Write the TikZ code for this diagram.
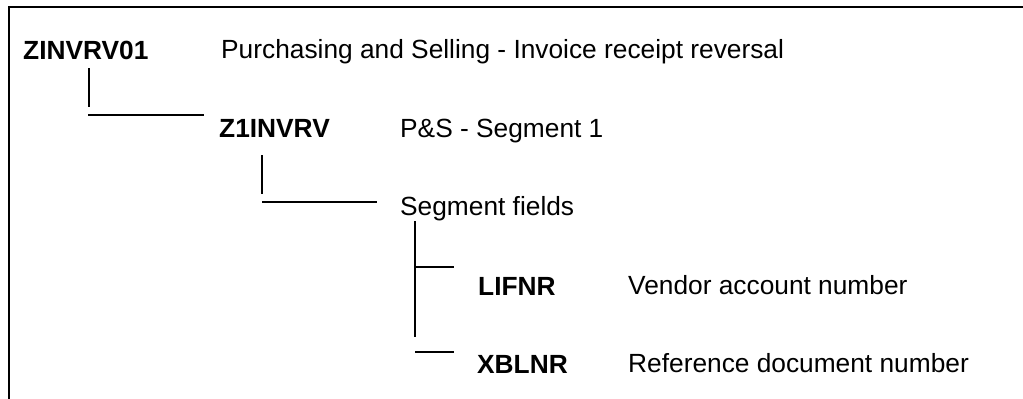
\documentclass[tikz,border=0pt]{standalone}
\usepackage{fontspec}
\setmainfont{Liberation Sans}
\tikzset{x=1pt,y=-1pt,
    every node/.style={anchor=base west,inner sep=0pt,font=\fontsize{26.3}{30}\selectfont},
    segname/.style={font=\fontsize{26.3}{30}\selectfont\bfseries},
    treeline/.style={line width=1.2pt},
    }
\begin{document}
\begin{tikzpicture}
	\useasboundingbox (0,0) rectangle (1023,399);
	% frame, cut off right and below
	\coordinate (frameBL) at (8.5,402);
	\coordinate (frameTL) at (8.5,7.3);
	\coordinate (frameTR) at (1026,7.3);
	\draw[line width=2pt] (frameBL) -- (frameTL) -- (frameTR);
	% idoc type
	\node[segname] (idoc) at (23,59) {ZINVRV01};
	\node (idocTxt) at (221,58) {Purchasing and Selling - Invoice receipt reversal};
	% segment
	\node[segname] (seg) at (219,137) {Z1INVRV};
	\node (segTxt) at (400,137) {P\&S - Segment 1};
	\node (fields) at (400,215) {Segment fields};
	% fields
	\node[segname] (lifnr) at (478,295) {LIFNR};
	\node (lifnrTxt) at (628,294) {Vendor account number};
	\node[segname] (xblnr) at (477,373) {XBLNR};
	\node (xblnrTxt) at (628,372) {Reference document number};
	% idoc -> seg
	\coordinate (idocUp) at (89,68);
	\coordinate (idocDown) at (89,107);
	\coordinate (segIn) at (88,115);
	\coordinate (segEnd) at (204,115);
	\draw[treeline] (idocUp) -- (idocDown);
	\draw[treeline] (segIn) -- (segEnd);
	% seg -> fields
	\coordinate (segUp) at (262,155);
	\coordinate (segDown) at (262,194);
	\coordinate (fieldsIn) at (262,202);
	\coordinate (fieldsEnd) at (377,202);
	\draw[treeline] (segUp) -- (segDown);
	\draw[treeline] (fieldsIn) -- (fieldsEnd);
	% fields -> lifnr, xblnr
	\coordinate (fieldsUp) at (415,221);
	\coordinate (fieldsDown) at (415,337);
	\coordinate (lifnrIn) at (415,267);
	\coordinate (lifnrEnd) at (454,267);
	\coordinate (xblnrIn) at (415,352);
	\coordinate (xblnrEnd) at (454,352);
	\draw[treeline] (fieldsUp) -- (fieldsDown);
	\draw[treeline] (lifnrIn) -- (lifnrEnd);
	\draw[treeline] (xblnrIn) -- (xblnrEnd);
\end{tikzpicture}
\end{document}
